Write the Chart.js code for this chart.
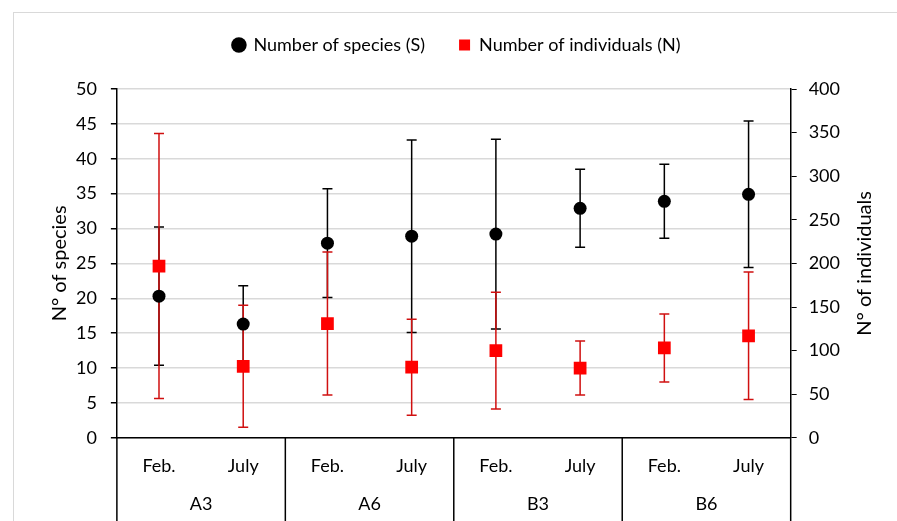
<!DOCTYPE html>
<html>
<head>
<meta charset="utf-8">
<script src="https://cdn.jsdelivr.net/npm/chart.js@4"></script>
<style>
  html, body { margin: 0; padding: 0; background: #fff; }
  #wrap { width: 897px; height: 521px; position: relative; }
</style>
</head>
<body>
<div id="wrap"><canvas id="myChart"></canvas></div>
<script>
const months = ['Feb.', 'July', 'Feb.', 'July', 'Feb.', 'July', 'Feb.', 'July'];
const sites = ['A3', 'A6', 'B3', 'B6'];

// number of species (left axis), mean and +/- error
const speciesMean = [20.3, 16.3, 27.9, 28.9, 29.2, 32.9, 33.9, 34.9];
const speciesErr = [9.9, 5.5, 7.8, 13.8, 13.6, 5.6, 5.3, 10.5];

// number of individuals (right axis), mean and +/- error
const indivMean = [197, 82, 131, 81, 100, 80, 103, 117];
const indivErr = [152, 70, 82, 55, 67, 31, 39, 73];

const FONT = 'Lato, "Liberation Sans", sans-serif';

const errorBars = {
  id: 'errorBars',
  beforeDatasetsDraw(chart) {
    const ctx = chart.ctx;
    const xs = chart.scales.x;
    const sets = [
      { mean: speciesMean, err: speciesErr, axis: 'y', color: '#000000' },
      { mean: indivMean, err: indivErr, axis: 'y2', color: '#d01010' }
    ];
    ctx.save();
    ctx.lineWidth = 1.5;
    sets.forEach(s => {
      const ys = chart.scales[s.axis];
      ctx.strokeStyle = s.color;
      s.mean.forEach((m, i) => {
        const x = xs.getPixelForValue(i);
        const top = ys.getPixelForValue(m + s.err[i]);
        const bot = ys.getPixelForValue(Math.max(0, m - s.err[i]));
        ctx.beginPath();
        ctx.moveTo(x, top); ctx.lineTo(x, bot);
        ctx.moveTo(x - 5, top); ctx.lineTo(x + 5, top);
        ctx.moveTo(x - 5, bot); ctx.lineTo(x + 5, bot);
        ctx.stroke();
      });
    });
    ctx.restore();
  }
};

// give the legend more room below it
const legendRoom = {
  id: 'legendRoom',
  beforeInit(chart) {
    const fit = chart.legend.fit;
    chart.legend.fit = function () {
      fit.call(this);
      this.height = 87;
    };
  }
};

const decorations = {
  id: 'decorations',
  beforeDraw(chart) {
    const ctx = chart.ctx;
    ctx.save();
    ctx.fillStyle = '#fff';
    ctx.fillRect(0, 0, chart.width, chart.height);
    ctx.strokeStyle = '#d9d9d9';
    ctx.lineWidth = 1;
    ctx.strokeRect(13.5, 12.5, chart.width + 10, chart.height + 10);
    ctx.restore();
  },
  afterDraw(chart) {
    const ctx = chart.ctx;
    const xs = chart.scales.x;
    const y2 = chart.scales.y2;
    const area = chart.chartArea;
    const step = xs.width / months.length;
    ctx.save();
    // group separators below the axis
    ctx.strokeStyle = '#000';
    ctx.lineWidth = 1.5;
    for (let g = 0; g <= sites.length; g++) {
      const x = xs.getPixelForValue(g * 2) - step / 2;
      ctx.beginPath();
      ctx.moveTo(x, area.bottom);
      ctx.lineTo(x, chart.height);
      ctx.stroke();
    }
    // axis titles, both reading bottom to top
    ctx.fillStyle = '#000';
    ctx.font = '20px ' + FONT;
    ctx.textAlign = 'center';
    ctx.textBaseline = 'middle';
    const midY = (area.top + area.bottom) / 2;
    [[area.left - 57, 'N° of species'], [y2.right + 13, 'N° of individuals']].forEach(([x, txt]) => {
      ctx.save();
      ctx.translate(x, midY);
      ctx.rotate(-Math.PI / 2);
      ctx.fillText(txt, 0, 0);
      ctx.restore();
    });
    ctx.restore();
  }
};

new Chart(document.getElementById('myChart'), {
  type: 'line',
  data: {
    labels: months,
    datasets: [
      {
        label: 'Number of species (S)',
        data: speciesMean,
        yAxisID: 'y',
        showLine: false,
        pointStyle: 'circle',
        pointRadius: 6.5,
        pointHoverRadius: 6.5,
        backgroundColor: '#000',
        borderColor: '#000',
        pointBorderWidth: 0
      },
      {
        label: 'Number of individuals (N)',
        data: indivMean,
        yAxisID: 'y2',
        showLine: false,
        pointStyle: 'rect',
        pointRadius: 9,
        pointHoverRadius: 9,
        backgroundColor: '#ff0000',
        borderColor: '#ff0000',
        pointBorderWidth: 0
      }
    ]
  },
  options: {
    responsive: true,
    maintainAspectRatio: false,
    animation: false,
    layout: { padding: { left: 62, right: 45, top: 2, bottom: 0 } },
    plugins: {
      tooltip: { enabled: false },
      legend: {
        position: 'top',
        labels: {
          usePointStyle: true,
          boxWidth: 11,
          boxHeight: 11,
          padding: 34,
          color: '#000',
          font: { family: FONT, size: 18 }
        }
      }
    },
    scales: {
      x: {
        type: 'category',
        offset: true,
        grid: { display: false },
        border: { display: true, color: '#000', width: 1.5 },
        ticks: { color: '#000', padding: 10, font: { family: FONT, size: 18 } }
      },
      x2: {
        type: 'category',
        labels: sites,
        offset: true,
        position: 'bottom',
        grid: { display: false, drawTicks: false },
        border: { display: false },
        ticks: { color: '#000', padding: 6, font: { family: FONT, size: 18 } }
      },
      y: {
        position: 'left',
        min: 0,
        max: 50,
        ticks: { stepSize: 5, color: '#000', padding: 14, font: { family: FONT, size: 18 } },
        grid: { color: '#d9d9d9', lineWidth: 1.5, tickColor: '#000', tickLength: 6 },
        border: { color: '#000', width: 1.5 }
      },
      y2: {
        position: 'right',
        min: 0,
        max: 400,
        ticks: { stepSize: 50, color: '#000', padding: 12, font: { family: FONT, size: 18 } },
        grid: { drawOnChartArea: false, tickColor: '#000', tickLength: 6 },
        border: { color: '#000', width: 1.5 }
      }
    }
  },
  plugins: [legendRoom, decorations, errorBars]
});
</script>
</body>
</html>
